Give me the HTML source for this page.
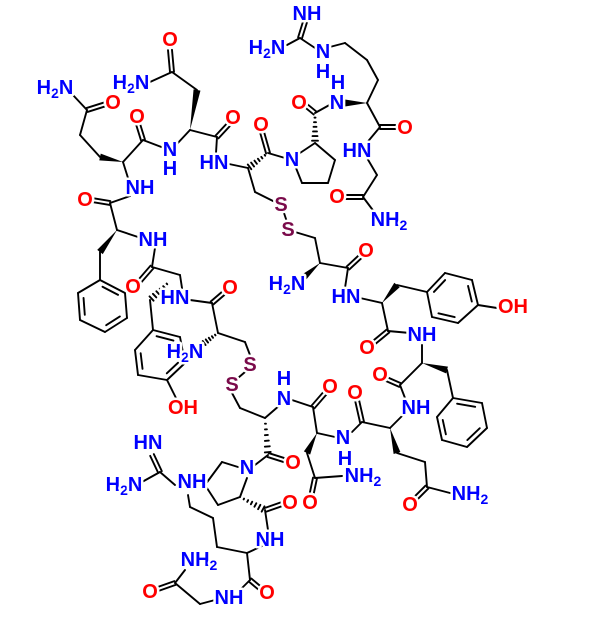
<!DOCTYPE html>
<html><head><meta charset="utf-8"><style>
html,body{margin:0;padding:0;background:#fff;}
svg{display:block;}
text{font-family:"Liberation Sans",Arial,sans-serif;font-size:20px;font-weight:bold;text-anchor:middle;dominant-baseline:central;paint-order:stroke;stroke:#fff;stroke-width:5px;stroke-linejoin:round;}
.b{fill:#0000ff}.r{fill:#ff0000}.s{fill:#7a0a4a}
</style></head><body>
<svg id="m" width="600" height="621" viewBox="0 0 600 621" xmlns="http://www.w3.org/2000/svg">
<g id="bonds" stroke="#000" stroke-width="1.9" fill="none" stroke-linecap="round"></g>
<g id="labels">
<text class="b" x="307" y="14">NH</text>
<text class="b" x="267" y="48">H<tspan font-size="14" dy="5">2</tspan><tspan dy="-5">N</tspan></text>
<text class="b" x="323" y="52">N</text><text class="b" x="323" y="72">H</text>
<text class="b" x="338" y="83">H</text><text class="b" x="337" y="103">N</text>
<text class="r" x="299" y="103">O</text>
<text class="r" x="405" y="128">O</text>
<text class="b" x="357" y="151">HN</text>
<text class="r" x="337" y="197">O</text>
<text class="b" x="389" y="220">NH<tspan font-size="14" dy="5">2</tspan></text>
<text class="r" x="261" y="125">O</text>
<text class="b" x="292" y="160">N</text>
<text class="b" x="214" y="163">HN</text>
<text class="r" x="233" y="118">O</text>
<text class="b" x="170" y="150">N</text><text class="b" x="170" y="169">H</text>
<text class="r" x="137" y="117">O</text>
<text class="r" x="170" y="40">O</text>
<text class="b" x="131" y="83">H<tspan font-size="14" dy="5">2</tspan><tspan dy="-5">N</tspan></text>
<text class="b" x="55" y="88">H<tspan font-size="14" dy="5">2</tspan><tspan dy="-5">N</tspan></text>
<text class="r" x="113" y="103">O</text>
<text class="b" x="140" y="188">NH</text>
<text class="r" x="85" y="200">O</text>
<text class="b" x="153" y="240">NH</text>
<text class="r" x="133" y="287">O</text>
<text class="b" x="175" y="298">HN</text>
<text class="r" x="230" y="288">O</text>
<text class="s" x="281" y="205">S</text><text class="s" x="288" y="230">S</text>
<text class="b" x="287" y="284">H<tspan font-size="14" dy="5">2</tspan><tspan dy="-5">N</tspan></text>
<text class="r" x="366" y="251">O</text>
<text class="b" x="346" y="297">HN</text>
<text class="r" x="513" y="307">OH</text>
<text class="b" x="422" y="335">NH</text>
<text class="r" x="367" y="348">O</text>
<text class="r" x="380" y="375">O</text>
<text class="b" x="416" y="408">NH</text>
<text class="r" x="355" y="393">O</text>
<text class="r" x="330" y="387">O</text>
<text class="b" x="343" y="438">N</text><text class="b" x="345" y="459">H</text>
<text class="b" x="363" y="476">NH<tspan font-size="14" dy="5">2</tspan></text>
<text class="r" x="310" y="503">O</text>
<text class="r" x="410" y="505">O</text>
<text class="b" x="470" y="494">NH<tspan font-size="14" dy="5">2</tspan></text>
<text class="b" x="284" y="379">H</text><text class="b" x="284" y="399">N</text>
<text class="r" x="293" y="463">O</text>
<text class="b" x="247" y="468">N</text>
<text class="r" x="290" y="503">O</text>
<text class="b" x="270" y="540">NH</text>
<text class="r" x="267" y="593">O</text>
<text class="b" x="229" y="598">NH</text>
<text class="r" x="150" y="592">O</text>
<text class="b" x="199" y="560">NH<tspan font-size="14" dy="5">2</tspan></text>
<text class="b" x="148" y="443">HN</text>
<text class="b" x="124" y="485">H<tspan font-size="14" dy="5">2</tspan><tspan dy="-5">N</tspan></text>
<text class="b" x="192" y="482">NH</text>
<text class="s" x="250" y="365">S</text><text class="s" x="232" y="385">S</text>
<text class="b" x="185" y="352">H<tspan font-size="14" dy="5">2</tspan><tspan dy="-5">N</tspan></text>
<text class="r" x="183" y="408">OH</text>
</g>
</svg>
<script>
var B=[
[300,38,305,22,2],[300,38,287,45],[300,38,318,50],
[326,48,345,43],[345,43,367,60],[367,60,378,80],[378,80,367,103],[367,103,345,103,'w'],[367,103,380,127],[380,127,398,127,2],[380,127,365,145],[367,158,377,175],[377,175,363,197],[363,197,345,197,2],[363,197,375,213],
[333,103,315,113],[315,113,304,104,2],[315,113,315,143,'h'],[315,143,335,160],[335,160,328,183],[328,183,302,183],[302,183,296,168],[300,153,315,143],[285,158,268,153],[268,153,262,132,2],[268,153,248,168,'h'],[248,168,229,164],[248,168,255,192],[255,192,275,202],
[217,137,230,123,2],[217,137,190,130],[217,137,216,153],[190,130,197,90,'w'],[197,90,172,72],[172,72,170,50,2],[172,72,150,82],[190,130,176,145],
[164,148,143,140],[143,140,138,124,2],[143,140,123,162],[123,162,100,157,'w'],[100,157,80,135],[80,135,87,110],[87,110,106,104,2],[87,110,72,94],[123,162,128,178],
[130,196,110,203],[110,203,92,200,2],[110,203,117,230],[117,230,138,237],[117,230,100,252,'w'],[100,252,100,280],
[155,248,152,267],[152,267,139,282,2],[152,267,180,275],[180,275,182,288],[170,281,150,300,'h'],[150,300,153,330],[167,380,176,398],
[190,300,212,303],[212,303,226,291,2],[212,303,218,333],[218,333,200,346,'h'],[218,333,245,342],[245,342,250,355],
[284,213,287,222],[245,372,238,378],
[232,393,240,408],[240,408,265,418],[265,418,280,405],[265,418,268,455,'h'],[268,455,287,461,2],[268,455,255,465],
[292,400,313,407],[313,407,326,392,2],[313,407,317,433],[317,433,335,437],[317,433,307,453,'w'],[307,453,315,478],[315,478,311,497,2],[315,478,342,476],
[352,432,362,422],[362,422,357,400,2],[362,422,390,428],[390,428,403,415],[390,428,397,453,'w'],[397,453,425,462],[425,462,427,487],[427,487,414,500,2],[427,487,450,493],
[405,398,400,385],[400,385,384,378,2],[400,385,422,363],[422,363,422,345],[422,363,447,370,'w'],[447,370,453,398],
[410,333,388,331],[388,331,371,345,2],[388,331,382,303],[382,303,360,298],[382,303,397,285,'w'],[397,285,427,292],[478,305,497,308],
[345,288,348,268],[348,268,362,255,2],[348,268,320,263],[320,263,303,278,'w'],[320,263,315,238],[315,238,295,232],
[247,478,240,497],[240,497,218,505],[218,505,205,485],[205,485,222,462],[222,462,238,467],[240,497,265,510,'h'],[265,510,285,503,2],[265,510,268,530],
[262,546,247,553],[247,553,250,580],[250,580,262,590,2],[250,580,240,590],[215,600,200,604],[200,604,175,583],[175,583,158,589,2],[175,583,185,570],[247,553,217,547],[217,547,213,518],[213,518,190,507],[190,507,188,495],[175,485,160,472],[160,472,152,455,2],[160,472,142,482]
];
var R=[
[[100,280],[125,293],[127,318],[105,332],[80,320],[78,293]],
[[153,330],[180,337],[185,363],[167,380],[138,375],[135,350]],
[[453,398],[482,403],[487,428],[467,447],[442,440],[437,417]],
[[427,292],[445,273],[472,280],[478,305],[458,323],[432,317]]
];
var g=document.getElementById('bonds'),NS='http://www.w3.org/2000/svg';
function L(a,b,c,d){var e=document.createElementNS(NS,'line');e.setAttribute('x1',a);e.setAttribute('y1',b);e.setAttribute('x2',c);e.setAttribute('y2',d);g.appendChild(e);}
function P(pts){var e=document.createElementNS(NS,'polygon');e.setAttribute('points',pts.map(function(p){return p.join(',')}).join(' '));e.setAttribute('fill','#000');e.setAttribute('stroke','none');g.appendChild(e);}
B.forEach(function(b){var x1=b[0],y1=b[1],x2=b[2],y2=b[3],t=b[4]||1;var dx=x2-x1,dy=y2-y1,l=Math.sqrt(dx*dx+dy*dy),nx=-dy/l,ny=dx/l;
if(t==2){L(x1+nx*2,y1+ny*2,x2+nx*2,y2+ny*2);L(x1-nx*2,y1-ny*2,x2-nx*2,y2-ny*2);}
else if(t=='w'){P([[x1,y1],[x2+nx*3.5,y2+ny*3.5],[x2-nx*3.5,y2-ny*3.5]]);}
else if(t=='h'){for(var i=1;i<=6;i++){var f=i/6.5,w=3.2*f,cx=x1+dx*f,cy=y1+dy*f;L(cx+nx*w,cy+ny*w,cx-nx*w,cy-ny*w);}}
else L(x1,y1,x2,y2);});
R.forEach(function(r){var cx=0,cy=0;r.forEach(function(p){cx+=p[0]/6;cy+=p[1]/6;});
for(var i=0;i<6;i++){var a=r[i],b=r[(i+1)%6];L(a[0],a[1],b[0],b[1]);
if(i%2==0){var s=0.78;var a2=[cx+(a[0]-cx)*s,cy+(a[1]-cy)*s],b2=[cx+(b[0]-cx)*s,cy+(b[1]-cy)*s];var mx=(a2[0]+b2[0])/2,my=(a2[1]+b2[1])/2;
L(mx+(a2[0]-mx)*0.8,my+(a2[1]-my)*0.8,mx+(b2[0]-mx)*0.8,my+(b2[1]-my)*0.8);}}});
</script>
</body></html>
